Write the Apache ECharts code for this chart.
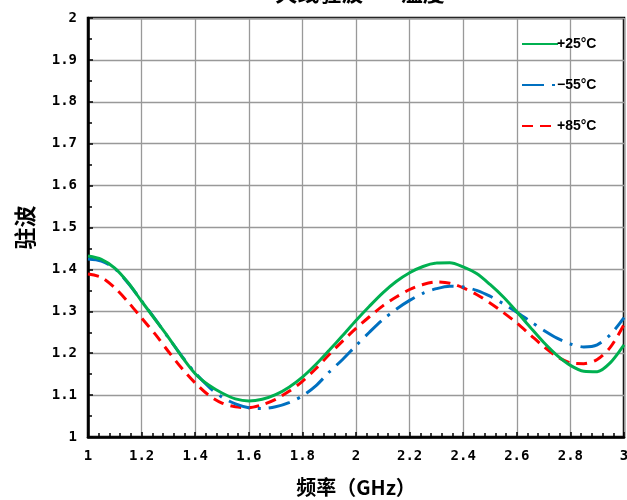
<!DOCTYPE html>
<html><head><meta charset="utf-8">
<script src="https://cdn.jsdelivr.net/npm/echarts@6/dist/echarts.min.js"></script>
<style>html,body{margin:0;padding:0;background:#fff}#c{width:627px;height:500px}</style>
</head><body><div id="c"></div>
<script>
var titleText = '天线驻波——温度';
var xName = '频率（GHz）';
var yName = '驻波';
var freq = [1.0,1.05,1.1,1.15,1.2,1.25,1.3,1.35,1.4,1.45,1.5,1.55,1.6,1.65,1.7,1.75,1.8,1.85,1.9,1.95,
            2.0,2.05,2.1,2.15,2.2,2.25,2.3,2.35,2.4,2.45,2.5,2.55,2.6,2.65,2.7,2.75,2.8,2.85,2.9,2.95,3.0];
var seriesNames = ['+25°C','−55°C','+85°C'];
var vswr25  = [1.432,1.424,1.403,1.368,1.324,1.281,1.238,1.192,1.151,1.124,1.105,1.091,1.086,1.090,1.101,1.119,1.143,1.173,1.207,1.242,
               1.278,1.312,1.344,1.371,1.392,1.407,1.415,1.416,1.406,1.390,1.364,1.334,1.299,1.262,1.226,1.195,1.171,1.157,1.156,1.178,1.220];
var vswrM55 = [1.425,1.420,1.402,1.367,1.325,1.282,1.237,1.193,1.153,1.120,1.095,1.079,1.070,1.068,1.072,1.082,1.098,1.122,1.155,1.185,
               1.218,1.250,1.280,1.305,1.326,1.343,1.354,1.360,1.358,1.350,1.336,1.318,1.298,1.276,1.255,1.236,1.222,1.215,1.220,1.245,1.285];
var vswr85  = [1.389,1.381,1.356,1.322,1.284,1.246,1.204,1.164,1.129,1.100,1.081,1.072,1.070,1.077,1.090,1.109,1.133,1.163,1.197,1.229,
               1.259,1.287,1.313,1.334,1.352,1.364,1.370,1.367,1.356,1.340,1.320,1.297,1.272,1.244,1.216,1.192,1.177,1.175,1.185,1.215,1.268];

function pairs(v){ return freq.map(function(f,i){ return [f, v[i]]; }); }
var font = '"Noto Sans CJK SC", sans-serif';
var numFont = '"DejaVu Sans Mono", monospace';
var chart = echarts.init(document.getElementById('c'));
chart.setOption({
  animation:false,
  title:{text:titleText,left:355,textAlign:'center',top:-23,textStyle:{fontFamily:font,fontSize:22,fontWeight:'bold',color:'#000'}},
  grid:{left:88,right:3,top:18,bottom:63,outerBoundsMode:'none',containLabel:false,show:true,borderColor:'#000',borderWidth:2.5,backgroundColor:'transparent'},
  legend:{orient:'vertical',left:516,top:32,itemWidth:36,itemHeight:14,itemGap:27,
    itemStyle:{opacity:0},
    textStyle:{fontFamily:'"Liberation Sans", Arial, sans-serif',fontSize:14,fontWeight:'bold',color:'#000',padding:[0,0,0,-6]},
    data:seriesNames},
  xAxis:{type:'value',min:1,max:3,interval:0.2,name:xName,nameLocation:'middle',nameGap:40,
    nameTextStyle:{fontFamily:font,fontSize:20,fontWeight:'bold',color:'#000'},
    axisLine:{show:true,lineStyle:{color:'#000',width:2.5}},
    axisTick:{show:true,inside:true,length:5,lineStyle:{color:'#000',width:1.5}},
    minorTick:{show:true,splitNumber:5,length:4,lineStyle:{color:'#000',width:1.5}},
    splitLine:{show:true,lineStyle:{color:'#999',width:1.3}},
    axisLabel:{fontFamily:numFont,fontSize:14,fontWeight:'bold',color:'#000',margin:12,
      formatter:function(v){return String(Math.round(v*10)/10);}}},
  yAxis:{type:'value',min:1,max:2,interval:0.1,name:yName,nameLocation:'middle',nameGap:52,nameRotate:90,
    nameTextStyle:{fontFamily:font,fontSize:22,fontWeight:'bold',color:'#000'},
    axisLine:{show:true,lineStyle:{color:'#000',width:2.5}},
    axisTick:{show:true,inside:true,length:5,lineStyle:{color:'#000',width:1.5}},
    minorTick:{show:true,splitNumber:2,length:4,lineStyle:{color:'#000',width:1.5}},
    splitLine:{show:true,lineStyle:{color:'#999',width:1.3}},
    axisLabel:{fontFamily:numFont,fontSize:14,fontWeight:'bold',color:'#000',margin:11,
      formatter:function(v){return String(Math.round(v*10)/10);}}},
  series:[
    {name:seriesNames[0],type:'line',data:pairs(vswr25),smooth:0.3,showSymbol:false,symbol:'none',z:3,
      itemStyle:{color:'#00b050'},lineStyle:{color:'#00b050',width:3}},
    {name:seriesNames[1],type:'line',data:pairs(vswrM55),smooth:0.3,showSymbol:false,symbol:'none',z:2,
      itemStyle:{color:'#0070c0'},lineStyle:{color:'#0070c0',width:3,type:[22,8,3,8]}},
    {name:seriesNames[2],type:'line',data:pairs(vswr85),smooth:0.3,showSymbol:false,symbol:'none',z:1,
      itemStyle:{color:'#ff0000'},lineStyle:{color:'#ff0000',width:3,type:[11,7]}}
  ]
});
</script></body></html>
